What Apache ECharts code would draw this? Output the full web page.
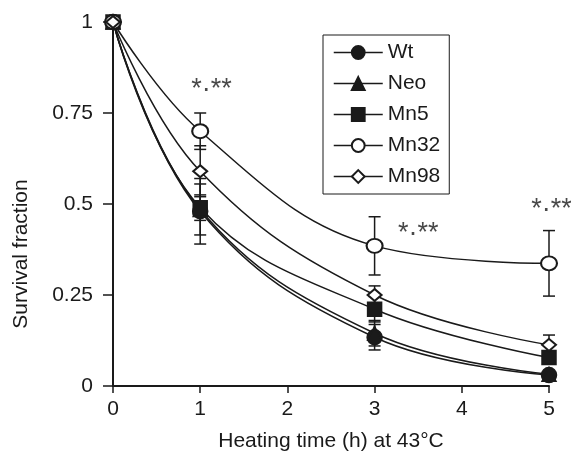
<!DOCTYPE html>
<html>
<head>
<meta charset="utf-8">
<script src="https://cdn.jsdelivr.net/npm/echarts@6/dist/echarts.min.js"></script>
<style>
  html, body { margin: 0; padding: 0; background: #fff; }
  #chart { width: 571px; height: 451px; }
</style>
</head>
<body>
<div id="chart"></div>
<script>
// heating time (h) at 43°C
const hours = [0, 1, 3, 5];

// survival fraction, one array per cell line
const wt   = [1, 0.48, 0.134, 0.03];
const neo  = [1, 0.485, 0.145, 0.032];
const mn5  = [1, 0.49, 0.211, 0.078];
const mn32 = [1, 0.70, 0.385, 0.337];
const mn98 = [1, 0.59, 0.25, 0.113];

// error bar half widths (same order as hours)
const wtErr   = [0, 0.09, 0.035, 0.006];
const neoErr  = [0, 0.07, 0.035, 0.006];
const mn5Err  = [0, 0.035, 0.035, 0.01];
const mn32Err = [0, 0.05, 0.08, 0.09];
const mn98Err = [0, 0.07, 0.025, 0.027];

// significance marks: x, y, text
const markX = [1.13, 3.5, 5.03];
const markY = [0.815, 0.42, 0.485];
const markText = ['*·**', '*·**', '*·**'];

const ink = '#1a1a1a';
const font = "'Liberation Sans', Arial, sans-serif";

const groups = [
  { name: 'Wt',   values: wt,   err: wtErr,   symbol: 'circle',       size: 15 },
  { name: 'Neo',  values: neo,  err: neoErr,  symbol: 'triangle',     size: 14 },
  { name: 'Mn5',  values: mn5,  err: mn5Err,  symbol: 'rect',         size: 14 },
  { name: 'Mn32', values: mn32, err: mn32Err, symbol: 'emptyCircle',  size: [16, 14] },
  { name: 'Mn98', values: mn98, err: mn98Err, symbol: 'emptyDiamond', size: [14, 12] }
];

// error bars drawn under the markers
const errData = [];
groups.forEach(g => {
  hours.forEach((h, i) => {
    if (g.err[i] > 0) errData.push([h, g.values[i] - g.err[i], g.values[i] + g.err[i]]);
  });
});

function renderErr(params, api) {
  const x = api.value(0);
  const top = api.coord([x, api.value(2)]);
  const bot = api.coord([x, api.value(1)]);
  const w = 6;
  const style = { stroke: ink, lineWidth: 1.5, fill: null };
  return {
    type: 'group',
    children: [
      { type: 'line', shape: { x1: top[0], y1: top[1], x2: bot[0], y2: bot[1] }, style: style },
      { type: 'line', shape: { x1: top[0] - w, y1: top[1], x2: top[0] + w, y2: top[1] }, style: style },
      { type: 'line', shape: { x1: bot[0] - w, y1: bot[1], x2: bot[0] + w, y2: bot[1] }, style: style }
    ]
  };
}

const series = [{
  type: 'custom',
  name: 'err',
  renderItem: renderErr,
  data: errData,
  z: 1,
  silent: true
}];

groups.forEach(g => {
  series.push({
    type: 'line',
    name: g.name,
    data: hours.map((h, i) => [h, g.values[i]]),
    smooth: 0.4,
    symbol: g.symbol,
    symbolSize: g.size,
    showAllSymbol: true,
    lineStyle: { color: ink, width: 1.5 },
    itemStyle: { color: ink, borderColor: ink, borderWidth: 1.5 },
    z: 3
  });
});

series.push({
  type: 'scatter',
  name: 'marks',
  symbolSize: 0,
  clip: false,
  data: markX.map((x, i) => [x, markY[i], markText[i]]),
  label: {
    show: true,
    position: 'inside',
    formatter: p => p.data[2],
    color: ink,
    fontSize: 27,
    fontFamily: font
  },
  z: 5,
  silent: true
});

const chart = echarts.init(document.getElementById('chart'));
chart.setOption({
  backgroundColor: '#fff',
  animation: false,
  textStyle: { fontFamily: font },
  grid: { left: 113, right: 22, top: 22, bottom: 65, outerBoundsMode: 'none' },
  legend: {
    data: groups.map(g => g.name),
    orient: 'vertical',
    left: 323,
    top: 35,
    padding: [7, 9, 7, 10],
    itemWidth: 49,
    itemHeight: 16,
    itemGap: 10,
    borderColor: ink,
    borderWidth: 1,
    textStyle: { fontSize: 21, color: ink, fontFamily: font },
    lineStyle: { width: 1.5 }
  },
  xAxis: {
    type: 'value',
    min: 0,
    max: 5,
    interval: 1,
    name: 'Heating time (h) at 43°C',
    nameLocation: 'middle',
    nameGap: 45,
    nameTextStyle: { fontSize: 21, color: ink, fontFamily: font },
    axisLine: { lineStyle: { color: ink, width: 2 } },
    axisTick: { show: true, length: 7, lineStyle: { color: ink, width: 1.5 } },
    axisLabel: { fontSize: 21, color: ink, margin: 13, fontFamily: font },
    splitLine: { show: false }
  },
  yAxis: {
    type: 'value',
    min: 0,
    max: 1,
    interval: 0.25,
    name: 'Survival fraction',
    nameLocation: 'middle',
    nameGap: 81,
    nameTextStyle: { fontSize: 21, color: ink, fontFamily: font, padding: [0, 100, 0, 0] },
    axisLine: { show: true, lineStyle: { color: ink, width: 2 } },
    axisTick: { show: true, length: 10, lineStyle: { color: ink, width: 1.5 } },
    axisLabel: { fontSize: 21, color: ink, margin: 20, fontFamily: font },
    splitLine: { show: false }
  },
  series: series
});
</script>
</body>
</html>
